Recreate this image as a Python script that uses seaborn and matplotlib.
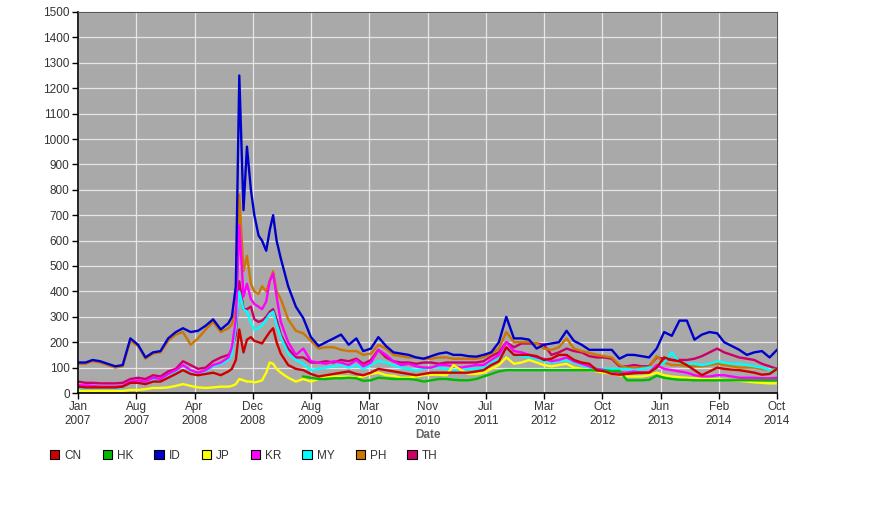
import numpy as np
import pandas as pd
import matplotlib
matplotlib.use("Agg")
import matplotlib.pyplot as plt
import matplotlib.dates as mdates
from matplotlib.patches import Patch
import seaborn as sns

# ---------------- data ----------------
months = pd.date_range("2007-01-01", "2014-10-01", freq="MS")
mid_crisis = pd.to_datetime(["2008-09-15", "2008-10-15", "2008-11-15", "2008-12-15",
                             "2009-01-15", "2009-02-15", "2009-03-15"])
dates = months.union(mid_crisis)

nan = np.nan
CN = [25, 22, 22, 22, 22, 22, 25, 40, 40, 35, 45, 45,
      60, 75, 90, 75, 70, 75, 80, 70,
      85, 95, 130, 250, 160, 210, 220, 205,
      200, 195, 220, 240, 255, 200, 155, 110, 95, 90, 75, 65, 70, 75, 80,
      85, 75, 70, 80, 95, 90, 85, 80, 75, 70, 75, 80,
      80, 80, 80, 80, 80, 85, 90, 110, 125, 180, 150, 150,
      150, 145, 130, 135, 150, 150, 130, 120, 115, 90, 85, 75,
      72, 75, 78, 80, 80, 100, 140, 130, 125, 110, 90, 70,
      85, 100, 95, 92, 90, 85, 80, 72, 75, 95]
HK = [nan] * 12 + [nan] * 8 + [nan] * 8 + [nan] * 9 + [65, 60, 55, 55, 58, 58] + \
     [60, 58, 48, 50, 60, 58, 55, 55, 55, 52, 45, 50,
      55, 55, 52, 50, 50, 55, 65, 75, 85, 90, 90, 90,
      90, 90, 90, 90, 90, 90, 90, 90, 90, 88, 88, 87,
      87, 50, 50, 50, 52, 68, 60, 55, 52, 52, 50, 50,
      50, 50, 50, 50, 50, 50, 50, 50, 50, 50]
ID = [120, 120, 130, 125, 115, 105, 110, 215, 190, 140, 160, 165,
      215, 240, 255, 240, 245, 265, 290, 250,
      275, 300, 420, 1250, 720, 970, 800, 700,
      620, 600, 560, 640, 700, 600, 530, 420, 340, 295, 220, 185, 200, 215, 230,
      190, 215, 165, 175, 220, 185, 160, 155, 150, 140, 135, 145,
      155, 160, 150, 150, 145, 143, 150, 160, 200, 300, 215, 215,
      210, 175, 190, 195, 200, 245, 205, 190, 170, 170, 170, 170,
      135, 150, 150, 145, 140, 175, 240, 225, 285, 285, 210, 230,
      240, 235, 200, 185, 170, 150, 160, 165, 140, 170]
JP = [8, 8, 8, 8, 8, 8, 8, 12, 12, 15, 20, 20,
      22, 28, 35, 28, 22, 20, 22, 25,
      25, 28, 35, 55, 50, 45, 45, 42,
      45, 50, 80, 120, 115, 95, 80, 60, 45, 55, 45, 55, 65, 65, 65,
      65, 60, 65, 75, 80, 70, 68, 60, 60, 65, 70, 72,
      72, 70, 110, 90, 75, 75, 80, 95, 110, 140, 115, 120,
      130, 120, 110, 105, 110, 115, 100, 95, 90, 85, 80, 75,
      70, 65, 65, 65, 70, 80, 70, 65, 62, 60, 58, 55,
      55, 55, 52, 50, 48, 45, 42, 40, 38, 38]
KR = [30, 30, 28, 25, 25, 25, 28, 45, 50, 45, 60, 55,
      75, 90, 110, 90, 80, 90, 110, 120,
      140, 180, 290, 660, 380, 430, 370, 350,
      340, 330, 360, 440, 470, 380, 280, 200, 150, 175, 125, 120, 115, 125, 120,
      110, 130, 105, 120, 170, 150, 125, 110, 115, 105, 100, 100,
      110, 110, 105, 100, 105, 110, 110, 130, 150, 200, 165, 160,
      150, 140, 135, 125, 130, 140, 125, 115, 105, 95, 90, 85,
      80, 80, 85, 80, 80, 110, 95, 90, 85, 80, 70, 65,
      65, 70, 70, 65, 60, 60, 60, 58, 58, 60]
MY = [20, 20, 22, 20, 20, 20, 22, 45, 45, 40, 55, 50,
      70, 85, 110, 85, 80, 85, 105, 115,
      130, 150, 260, 400, 330, 320, 275, 250,
      255, 265, 290, 310, 320, 270, 220, 155, 130, 115, 90, 95, 100, 105, 110,
      100, 110, 95, 110, 125, 120, 110, 100, 95, 90, 95, 100,
      100, 95, 90, 90, 95, 95, 100, 120, 135, 180, 150, 145,
      140, 135, 125, 120, 125, 130, 120, 110, 100, 95, 95, 95,
      95, 95, 90, 95, 100, 100, 120, 160, 120, 115, 115, 110,
      115, 125, 120, 115, 115, 110, 105, 100, 90, 90]
PH = [115, 115, 125, 120, 110, 100, 105, 205, 185, 135, 155, 160,
      205, 230, 240, 190, 215, 250, 280, 240,
      255, 270, 330, 780, 480, 540, 430, 400,
      390, 420, 400, 440, 480, 400, 370, 290, 245, 235, 205, 175, 180, 180, 170,
      165, 165, 150, 155, 190, 175, 150, 145, 140, 140, 135, 135,
      140, 140, 135, 135, 135, 135, 140, 155, 175, 240, 200, 200,
      200, 195, 175, 170, 180, 215, 175, 165, 158, 150, 145, 140,
      110, 100, 100, 100, 100, 145, 120, 110, 110, 105, 105, 105,
      110, 115, 110, 105, 100, 100, 100, 95, 90, 95]
TH = [45, 40, 40, 38, 38, 38, 40, 55, 60, 55, 70, 65,
      85, 95, 125, 110, 95, 100, 125, 140,
      150, 170, 230, 440, 330, 330, 340, 290,
      280, 285, 300, 320, 330, 290, 230, 175, 140, 140, 120, 120, 125, 120, 130,
      125, 135, 115, 130, 170, 140, 125, 120, 120, 115, 120, 120,
      115, 120, 120, 120, 120, 120, 125, 145, 160, 200, 180, 195,
      195, 195, 190, 150, 160, 175, 165, 160, 145, 140, 140, 135,
      105, 105, 110, 105, 105, 140, 135, 130, 130, 130, 135, 145,
      160, 175, 160, 150, 140, 135, 130, 115, 105, 95]

countries = ["CN", "HK", "ID", "JP", "KR", "MY", "PH", "TH"]
series = {"CN": CN, "HK": HK, "ID": ID, "JP": JP, "KR": KR, "MY": MY, "PH": PH, "TH": TH}
colors = {"CN": "#CC0000", "HK": "#00BB00", "ID": "#0000CC", "JP": "#FFFF00",
          "KR": "#FF00FF", "MY": "#00FFFF", "PH": "#CC7700", "TH": "#CC0066"}

df = pd.concat([pd.DataFrame({"Date": dates, "Spread": series[c], "Country": c})
                for c in countries], ignore_index=True).dropna()

# ---------------- plot ----------------
plt.rcParams["font.family"] = ["Liberation Sans", "DejaVu Sans"]
fig = plt.figure(figsize=(8.9, 5.2), dpi=100)
ax = fig.add_axes([78 / 890, 1 - 393 / 520, 699 / 890, 381 / 520])
ax.set_facecolor("#A9A9A9")

sns.lineplot(data=df, x="Date", y="Spread", hue="Country", hue_order=countries[::-1],
             palette=colors, linewidth=1.7, estimator=None, legend=False, ax=ax)

start, end = pd.Timestamp("2007-01-01"), pd.Timestamp("2014-10-01")
ax.set_xlim(start, end)
ax.set_ylim(0, 1500)
ax.set_yticks(np.arange(0, 1501, 100))
xt = np.linspace(mdates.date2num(start), mdates.date2num(end), 13)
ax.set_xticks(xt)
ax.xaxis.set_major_formatter(mdates.DateFormatter("%b\n%Y"))
ax.grid(True, color="#E6E6E6", linewidth=0.9)
ax.set_axisbelow(True)
ax.tick_params(axis="both", direction="out", length=4, width=1, color="black",
               labelsize=8.5, labelcolor="#333333", pad=2)
for s in ["left", "bottom"]:
    ax.spines[s].set_color("black")
    ax.spines[s].set_linewidth(1.2)
for s in ["top", "right"]:
    ax.spines[s].set_color("#555555")
    ax.spines[s].set_linewidth(0.8)
ax.set_ylabel("")
ax.set_xlabel("Date", fontsize=8.5, fontweight="bold", color="#666666", labelpad=1)

handles = [Patch(facecolor=colors[c], edgecolor="black", linewidth=0.8, label=c) for c in countries]
fig.legend(handles=handles, loc="center left", bbox_to_anchor=(50 / 890, 1 - 456 / 520),
           ncol=8, frameon=False, fontsize=8.5, handlelength=0.8, handleheight=0.8,
           handletextpad=0.45, columnspacing=1.75, borderpad=0, borderaxespad=0,
           labelcolor="#333333")

fig.savefig("out.png", dpi=100)
